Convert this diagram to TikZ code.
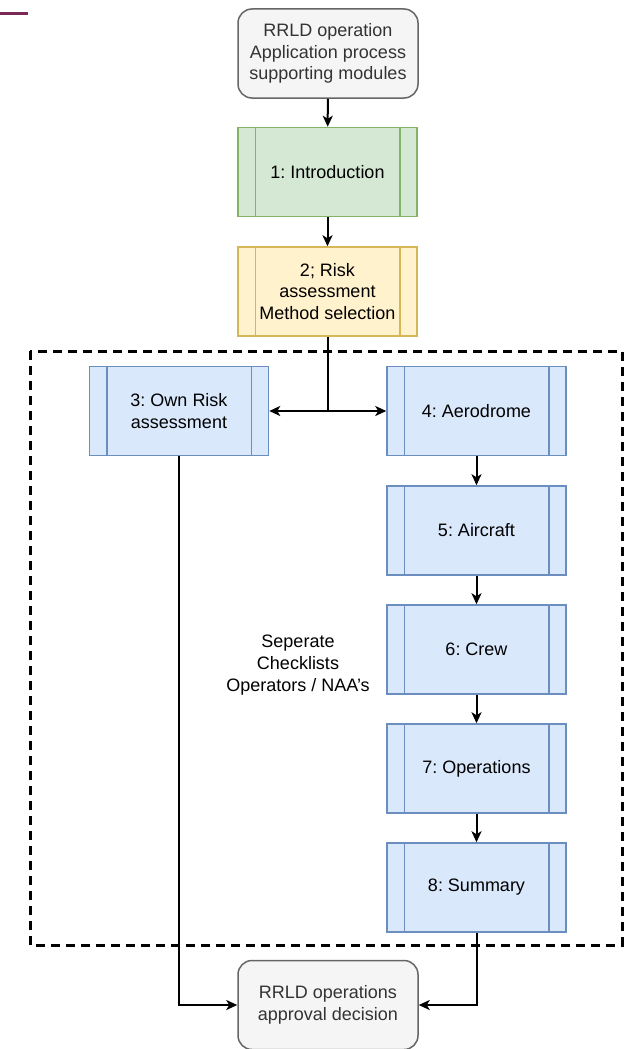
\documentclass[tikz,border=0pt]{standalone}
\usepackage{fontspec}
\setmainfont{Liberation Sans}
\usetikzlibrary{arrows.meta}
\definecolor{gfill}{HTML}{D5E8D4}\definecolor{gline}{HTML}{82B366}
\definecolor{yfill}{HTML}{FFF2CC}\definecolor{yline}{HTML}{D6B656}
\definecolor{bfill}{HTML}{DAE8FC}\definecolor{bline}{HTML}{6C8EBF}
\definecolor{tfill}{HTML}{F5F5F5}\definecolor{tline}{HTML}{666666}
\definecolor{ttext}{HTML}{333333}
\definecolor{maroon}{RGB}{122,40,85}
\frenchspacing
\tikzset{
  txt/.style={font=\fontsize{18}{21.6}\selectfont, align=center},
  proc/.style={txt, draw, line width=1.5pt, minimum width=179pt, minimum height=89pt, inner sep=0pt},
  term/.style={txt, draw=tline, fill=tfill, text=ttext, line width=1.5pt, rounded corners=14pt, minimum width=180pt, minimum height=89pt, inner sep=0pt},
  conn/.style={line width=2pt, -{Stealth[length=11pt,width=10pt,inset=3pt]}},
  plain/.style={line width=2pt},
  frame/.style={line width=3pt, dash pattern=on 9pt off 6pt}
}
\begin{document}
\begin{tikzpicture}[x=1pt,y=-1pt]
\useasboundingbox (0,0) rectangle (631,1049);
\draw[maroon, line width=3pt] (0,14) -- (28,14);

\node[term] (top) at (328,53.5) {RRLD operation\\Application process\\supporting modules};
\node[proc, draw=gline, fill=gfill] (intro) at (327.5,172) {1: Introduction};
\node[proc, draw=yline, fill=yfill] (risk) at (327.5,291.5) {2; Risk\\assessment\\Method selection};

\draw[frame] (30,351) rectangle (622,945);

\node[proc, draw=bline, fill=bfill] (own) at (179,411) {3: Own Risk\\assessment};
\node[proc, draw=bline, fill=bfill] (aero) at (476.5,411) {4: Aerodrome};
\node[proc, draw=bline, fill=bfill] (air) at (476.5,530.5) {5: Aircraft};
\node[proc, draw=bline, fill=bfill] (crew) at (476.5,649.5) {6: Crew};
\node[proc, draw=bline, fill=bfill] (ops) at (476.5,768.5) {7: Operations};
\node[proc, draw=bline, fill=bfill] (sum) at (476.5,887.5) {8: Summary};

\node[term] (dec) at (328,1005) {RRLD operations\\approval decision};

\node[txt] (sep) at (298,665) {Seperate\\Checklists\\Operators / NAA\symbol{39}s};

\foreach \n/\c in {intro/gline, risk/yline, own/bline, aero/bline, air/bline, crew/bline, ops/bline, sum/bline}{
  \draw[\c, line width=1.5pt] ([xshift=18pt]\n.north west) -- ([xshift=18pt]\n.south west);
  \draw[\c, line width=1.5pt] ([xshift=-18pt]\n.north east) -- ([xshift=-18pt]\n.south east);
}

\draw[conn] (top) -- (intro);
\draw[conn] (intro) -- (risk);
\coordinate (split) at (risk.south |- own.east);
\draw[plain] (risk.south) -- (split);
\draw[conn] (split) -- (own.east);
\draw[conn] (split) -- (aero.west);
\draw[conn] (aero) -- (air);
\draw[conn] (air) -- (crew);
\draw[conn] (crew) -- (ops);
\draw[conn] (ops) -- (sum);
\draw[conn] (own.south) |- (dec.west);
\draw[conn] (sum.south) |- (dec.east);
\end{tikzpicture}
\end{document}
